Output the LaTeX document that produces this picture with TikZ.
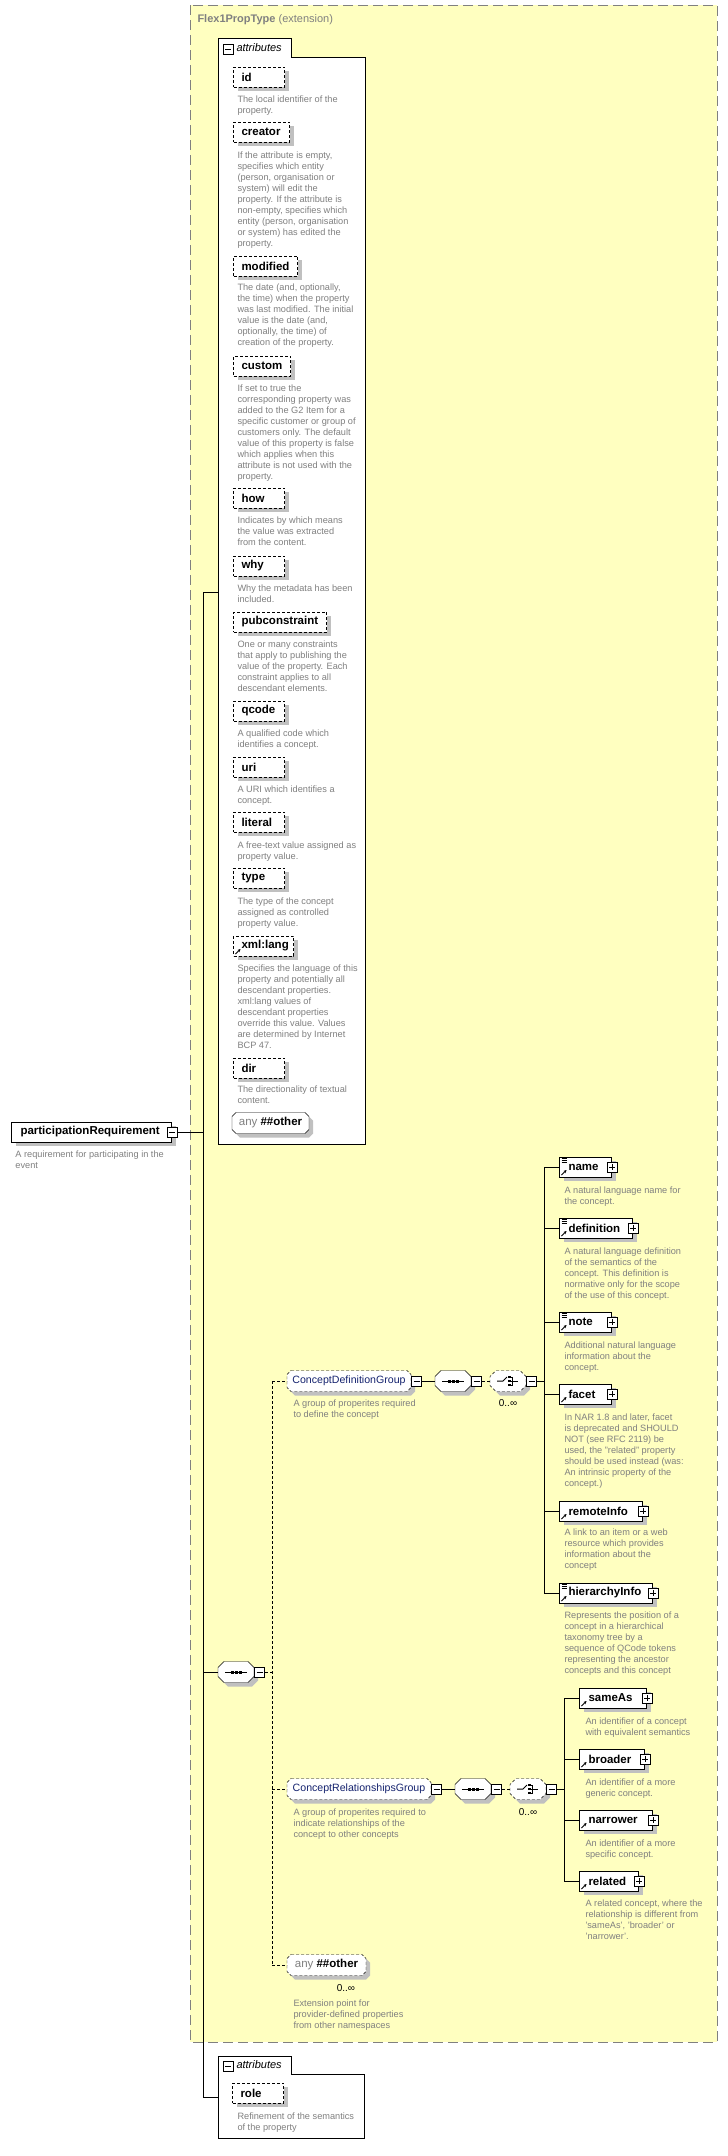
\documentclass[tikz,border=0pt]{standalone}
\usepackage{fontspec}
\setmainfont{Liberation Sans}
\usepackage{tikz}
\usetikzlibrary{arrows.meta,shadows,backgrounds}

\definecolor{bgyellow}{RGB}{255,255,192}
\definecolor{descgray}{RGB}{128,128,128}
\definecolor{shadowgray}{RGB}{192,192,192}
\definecolor{groupblue}{RGB}{20,34,110}

% octagon outline round a node: node name, corner cut
\newcommand{\octpath}[2]{([xshift=#2]#1.north west) -- ([xshift=-#2]#1.north east) -- ([yshift=-#2]#1.north east)
  -- ([yshift=#2]#1.south east) -- ([xshift=-#2]#1.south east) -- ([xshift=#2]#1.south west)
  -- ([yshift=#2]#1.south west) -- ([yshift=-#2]#1.north west) -- cycle}

\begin{document}
\begin{tikzpicture}[x=1pt,y=-1pt,line width=1pt,
  dsh/.style={dash pattern=on 3pt off 2pt},
  sh/.style={drop shadow={shadow xshift=4pt,shadow yshift=-4pt,fill=shadowgray,opacity=1}},
  lbl/.style={font=\fontsize{11.5}{13}\selectfont\bfseries},
  desc/.style={anchor=north west,inner sep=0pt,align=left,text=descgray,font=\fontsize{9.2}{11}\selectfont},
  attr/.style={draw,dsh,fill=white,sh,lbl,anchor=west,minimum height=20pt,inner xsep=8pt,inner ysep=0pt,text width=#1,align=left},
  attr/.default=35pt,
  elem/.style={draw,fill=white,sh,lbl,anchor=west,minimum height=20pt,inner xsep=9pt,inner ysep=0pt,text width=#1,align=left},
  btn/.style={draw,fill=white,minimum size=10pt,inner sep=0pt},
  minus/.style={btn,path picture={\draw[solid] ([xshift=2pt]path picture bounding box.west) -- ([xshift=-2pt]path picture bounding box.east);}},
  plus/.style={btn,path picture={\draw[solid] ([xshift=2pt]path picture bounding box.west) -- ([xshift=-2pt]path picture bounding box.east)
      ([yshift=-2pt]path picture bounding box.north) -- ([yshift=2pt]path picture bounding box.south);}},
  refic/.style={path picture={\draw[solid,-{Stealth[length=3pt,width=3pt]}] ([xshift=2pt,yshift=2pt]path picture bounding box.south west) -- ++(5pt,5pt);}},
  listic/.style={path picture={
      \foreach \k in {1.5pt,3.5pt,5.5pt}
        \draw[solid,line width=0.8pt] ([xshift=2pt,yshift=-\k]path picture bounding box.north west) -- ++(5pt,0pt);
      \draw[solid,-{Stealth[length=3pt,width=3pt]}] ([xshift=2pt,yshift=2pt]path picture bounding box.south west) -- ++(5pt,5pt);}},
  oct/.style={rectangle,anchor=west,minimum height=20pt,inner sep=0pt},
  grp/.style={oct,text=groupblue,font=\fontsize{10.6}{12}\selectfont},
  anyn/.style={oct,font=\fontsize{11.5}{13}\selectfont},
  seqn/.style={oct,minimum width=35pt,
      path picture={
        \draw[solid] ([xshift=-11pt]path picture bounding box.center) -- ([xshift=11pt]path picture bounding box.center);
        \foreach \dx in {-4pt,0pt,4pt}
          \fill[black] ([xshift=\dx]path picture bounding box.center) +(-1.5pt,-1.5pt) rectangle +(1.5pt,1.5pt);}},
  chn/.style={oct,minimum width=35pt,
      path picture={
        \draw[solid] ([xshift=-11pt]path picture bounding box.center) -- ([xshift=-5pt]path picture bounding box.center)
          -- ([xshift=-1pt,yshift=4pt]path picture bounding box.center);
        \foreach \dy in {-4pt,0pt,4pt}{
          \fill[black] ([xshift=1.5pt,yshift=\dy]path picture bounding box.center) +(-1.3pt,-1.3pt) rectangle +(1.3pt,1.3pt);
          \draw[solid,line width=0.7pt] ([xshift=1.5pt,yshift=\dy]path picture bounding box.center) -- ++(3pt,0pt);}
        \draw[solid,line width=0.7pt] ([xshift=4.5pt,yshift=4pt]path picture bounding box.center) -- ([xshift=4.5pt,yshift=-4pt]path picture bounding box.center);
        \draw[solid] ([xshift=4.5pt]path picture bounding box.center) -- ([xshift=10pt]path picture bounding box.center);}},
  occ/.style={inner sep=0pt,font=\fontsize{10}{12}\selectfont}]

\useasboundingbox (0,0) rectangle (728,2156);

\node[anchor=west,inner sep=0pt,text=descgray,font=\fontsize{11}{13}\selectfont] (ext) at (197,20) {\textbf{Flex1PropType} (extension)};

% attribute frames
\node[minus] (atb) at (228,49) {};
\node[anchor=west,inner sep=0pt,font=\fontsize{11}{13}\selectfont\itshape] (atl) at (236,48) {attributes};
\node[minus] (rtb) at (228,2066) {};
\node[anchor=west,inner sep=0pt,font=\fontsize{11}{13}\selectfont\itshape] (rtl) at (236,2065) {attributes};

% root element
\node[elem=142pt] (pr) at (11,1132) {participationRequirement};
\node[minus] (prb) at (pr.east) {};
\node[desc] (dpr) at (15,1150) {A requirement for participating in the\\event};

% attributes
\node[attr] (id) at (233,77) {id};
\node[desc] (did) at (237,95) {The local identifier of the\\property.};
\node[attr=40pt] (cre) at (233,132) {creator};
\node[desc] (dcre) at (237,151) {If the attribute is empty,\\specifies which entity\\(person, organisation or\\system) will edit the\\property. If the attribute is\\non-empty, specifies which\\entity (person, organisation\\or system) has edited the\\property.};
\node[attr=48pt] (mod) at (233,266) {modified};
\node[desc] (dmod) at (237,283) {The date (and, optionally,\\the time) when the property\\was last modified. The initial\\value is the date (and,\\optionally, the time) of\\creation of the property.};
\node[attr=41pt] (cus) at (233,366) {custom};
\node[desc] (dcus) at (237,384) {If set to true the\\corresponding property was\\added to the G2 Item for a\\specific customer or group of\\customers only. The default\\value of this property is false\\which applies when this\\attribute is not used with the\\property.};
\node[attr] (how) at (233,498) {how};
\node[desc] (dhow) at (237,516) {Indicates by which means\\the value was extracted\\from the content.};
\node[attr] (why) at (233,566) {why};
\node[desc] (dwhy) at (237,584) {Why the metadata has been\\included.};
\node[attr=77pt] (pub) at (233,622) {pubconstraint};
\node[desc] (dpub) at (237,640) {One or many constraints\\that apply to publishing the\\value of the property. Each\\constraint applies to all\\descendant elements.};
\node[attr] (qc) at (233,711) {qcode};
\node[desc] (dqc) at (237,729) {A qualified code which\\identifies a concept.};
\node[attr] (uri) at (233,767) {uri};
\node[desc] (duri) at (237,785) {A URI which identifies a\\concept.};
\node[attr] (lit) at (233,822) {literal};
\node[desc] (dlit) at (237,841) {A free-text value assigned as\\property value.};
\node[attr] (typ) at (233,878) {type};
\node[desc] (dtyp) at (237,897) {The type of the concept\\assigned as controlled\\property value.};
\node[attr=44pt,refic] (xl) at (233,946) {xml:lang};
\node[desc] (dxl) at (237,964) {Specifies the language of this\\property and potentially all\\descendant properties.\\xml:lang values of\\descendant properties\\override this value. Values\\are determined by Internet\\BCP 47.};
\node[attr] (dir) at (233,1068) {dir};
\node[desc] (ddir) at (237,1085) {The directionality of textual\\content.};
\node[anyn,minimum width=76pt] (anya) at (232,1123) {\textcolor{descgray}{any} \textbf{\#\#other}};
\node[attr] (role) at (232,2093) {role};
\node[desc] (drole) at (237,2112) {Refinement of the semantics\\of the property};

% content model
\node[seqn] (sq0) at (218,1672) {};
\node[minus,anchor=west] (sq0b) at (sq0.east) {};
\node[grp,minimum width=123pt] (cdg) at (287,1381) {ConceptDefinitionGroup};
\node[minus,anchor=west] (cdgb) at (cdg.east) {};
\node[desc] (dcdg) at (293,1399) {A group of properites required\\to define the concept};
\node[seqn] (sq1) at (435,1381) {};
\node[minus,anchor=west] (sq1b) at (sq1.east) {};
\node[chn] (ch1) at (490,1381) {};
\node[minus,anchor=west] (ch1b) at (ch1.east) {};
\node[occ] (o1) at (508,1403) {0..∞};
\node[grp,minimum width=143pt] (crg) at (287,1789) {ConceptRelationshipsGroup};
\node[minus,anchor=west] (crgb) at (crg.east) {};
\node[desc] (dcrg) at (293,1808) {A group of properites required to\\indicate relationships of the\\concept to other concepts};
\node[seqn] (sq2) at (455,1789) {};
\node[minus,anchor=west] (sq2b) at (sq2.east) {};
\node[chn] (ch2) at (510,1789) {};
\node[minus,anchor=west] (ch2b) at (ch2.east) {};
\node[occ] (o2) at (528,1812) {0..∞};
\node[anyn,minimum width=78pt] (anye) at (287,1965) {\textcolor{descgray}{any} \textbf{\#\#other}};
\node[occ] (o3) at (346,1988) {0..∞};
\node[desc] (danye) at (293,1999) {Extension point for\\provider-defined properties\\from other namespaces};

% concept definition elements
\node[elem=34pt,listic] (nm) at (559,1167) {name};
\node[plus] (nmb) at (nm.east) {};
\node[desc] (dnm) at (564,1186) {A natural language name for\\the concept.};
\node[elem=55pt,listic] (def) at (559,1228) {definition};
\node[plus] (defb) at (def.east) {};
\node[desc] (ddef) at (564,1247) {A natural language definition\\of the semantics of the\\concept. This definition is\\normative only for the scope\\of the use of this concept.};
\node[elem=34pt,listic] (note) at (559,1322) {note};
\node[plus] (noteb) at (note.east) {};
\node[desc] (dnote) at (564,1341) {Additional natural language\\information about the\\concept.};
\node[elem=34pt,refic] (fac) at (559,1394) {facet};
\node[plus] (facb) at (fac.east) {};
\node[desc] (dfac) at (564,1413) {In NAR 1.8 and later, facet\\is deprecated and SHOULD\\NOT (see RFC 2119) be\\used, the "related" property\\should be used instead (was:\\An intrinsic property of the\\concept.)};
\node[elem=65pt,refic] (rin) at (559,1511) {remoteInfo};
\node[plus] (rinb) at (rin.east) {};
\node[desc] (drin) at (564,1528) {A link to an item or a web\\resource which provides\\information about the\\concept};
\node[elem=75pt,listic] (hin) at (559,1593) {hierarchyInfo};
\node[plus] (hinb) at (hin.east) {};
\node[desc] (dhin) at (564,1611) {Represents the position of a\\concept in a hierarchical\\taxonomy tree by a\\sequence of QCode tokens\\representing the ancestor\\concepts and this concept};

% concept relationship elements
\node[elem=49pt,refic] (sa) at (579,1698) {sameAs};
\node[plus] (sab) at (sa.east) {};
\node[desc] (dsa) at (585,1717) {An identifier of a concept\\with equivalent semantics};
\node[elem=47pt,refic] (br) at (579,1759) {broader};
\node[plus] (brb) at (br.east) {};
\node[desc] (dbr) at (585,1778) {An identifier of a more\\generic concept.};
\node[elem=55pt,refic] (nar) at (579,1820) {narrower};
\node[plus] (narb) at (nar.east) {};
\node[desc] (dnar) at (585,1839) {An identifier of a more\\specific concept.};
\node[elem=41pt,refic] (rel) at (579,1881) {related};
\node[plus] (relb) at (rel.east) {};
\node[desc] (drel) at (585,1899) {A related concept, where the\\relationship is different from\\'sameAs', 'broader' or\\'narrower'.};

% frames and octagon outlines behind the nodes
\begin{scope}[on background layer]
\draw[draw=descgray,dash pattern=on 10pt off 5pt,fill=bgyellow] (190,5) rectangle (717,2042);
\draw[fill=white] (218,38) -- (291,38) -- (291,57) -- (365,57) -- (365,1144) -- (218,1144) -- cycle;
\draw[fill=white] (218,2056) -- (291,2056) -- (291,2074) -- (364,2074) -- (364,2138) -- (218,2138) -- cycle;
\foreach \n/\c in {anya/4pt,sq0/6pt,sq1/6pt,sq2/6pt}
  \draw[fill=white,sh] \octpath{\n}{\c};
\foreach \n/\c in {cdg/4pt,crg/4pt,anye/4pt,ch1/6pt,ch2/6pt}
  \draw[fill=white,sh,dsh] \octpath{\n}{\c};
\end{scope}

% connectors
\coordinate (atin) at (218,592);
\coordinate (rtin) at (218,2097);
\coordinate (sptop) at (203,592);
\coordinate (spbot) at (203,2097);
\draw (atin) -- (sptop) -- (spbot) -- (rtin);
\draw (prb.east) -- (prb.east -| sptop);
\draw (sq0.west -| sptop) -- (sq0.west);

\coordinate (gtop) at (272,1381);
\coordinate (gbot) at (272,1965);
\draw[dsh] (sq0b.east) -- (sq0b.east -| gtop);
\draw[dsh] (gtop) -- (gbot);
\draw[dsh] (gtop) -- (cdg.west);
\draw[dsh] (crg.west -| gtop) -- (crg.west);
\draw[dsh] (gbot) -- (anye.west);

\draw (cdgb.east) -- (sq1.west);
\draw[dsh] (sq1b.east) -- (ch1.west);
\draw (crgb.east) -- (sq2.west);
\draw[dsh] (sq2b.east) -- (ch2.west);

\coordinate (c1top) at (544,1167);
\coordinate (c1bot) at (544,1593);
\draw (ch1b.east) -- (ch1b.east -| c1top);
\draw (c1top) -- (c1bot);
\foreach \n in {nm,def,note,fac,rin,hin}
  \draw (\n.west -| c1top) -- (\n.west);

\coordinate (c2top) at (564,1698);
\coordinate (c2bot) at (564,1881);
\draw (ch2b.east) -- (ch2b.east -| c2top);
\draw (c2top) -- (c2bot);
\foreach \n in {sa,br,nar,rel}
  \draw (\n.west -| c2top) -- (\n.west);
\end{tikzpicture}
\end{document}
